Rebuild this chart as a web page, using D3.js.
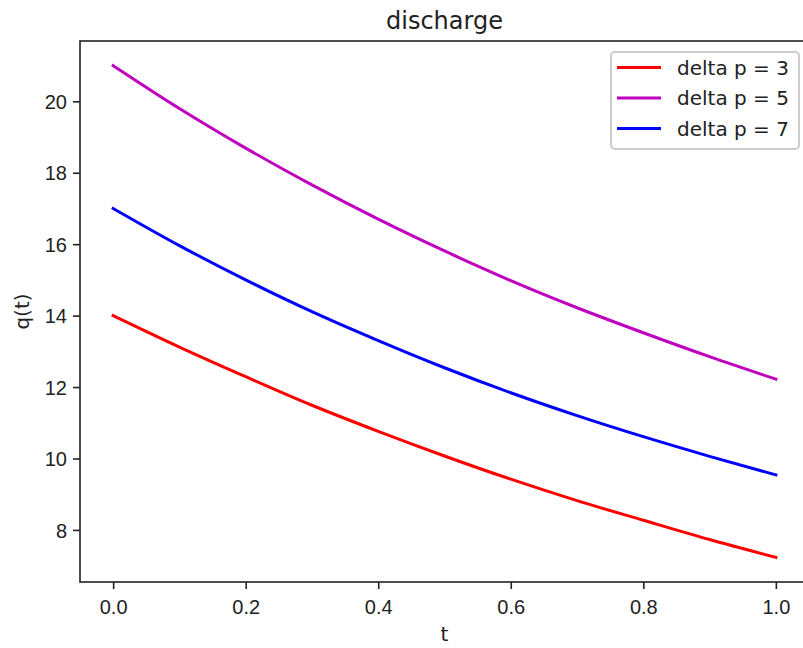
<!DOCTYPE html>
<html>
<head>
<meta charset="utf-8">
<script src="https://cdn.jsdelivr.net/npm/d3@7"></script>
<style>
  html, body { margin: 0; padding: 0; background: #fff; }
  svg { display: block; font-family: "DejaVu Sans", sans-serif; }
</style>
</head>
<body>
<svg id="chart" width="803" height="648"></svg>
<script>
const tValues = [0.0, 0.1, 0.2, 0.3, 0.4, 0.5, 0.6, 0.7, 0.8, 0.9, 1.0];
const seriesNames = ["delta p = 3", "delta p = 5", "delta p = 7"];
const seriesColors = ["#ff0000", "#bf00bf", "#0000ff"];
const qDeltaP3 = [14.0, 13.12, 12.29, 11.49, 10.76, 10.07, 9.42, 8.82, 8.27, 7.73, 7.23];
const qDeltaP5 = [21.0, 19.80, 18.69, 17.66, 16.70, 15.81, 14.98, 14.22, 13.52, 12.85, 12.22];
const qDeltaP7 = [17.0, 15.96, 15.00, 14.11, 13.30, 12.54, 11.84, 11.20, 10.61, 10.06, 9.54];
const xTicks = [0.0, 0.2, 0.4, 0.6, 0.8, 1.0];
const yTicks = [8, 10, 12, 14, 16, 18, 20];
const titleText = "discharge";
const xLabel = "t";
const yLabel = "q(t)";

const seriesValues = [qDeltaP3, qDeltaP5, qDeltaP7];

(function () {
const svg = d3.select("#chart");
const mLeft = 80, mRight = 809, mTop = 41, mBottom = 582;
const textColor = "#222";

const xExt = d3.extent(tValues);
const xPad = (xExt[1] - xExt[0]) * 0.05;
const x = d3.scaleLinear().domain([xExt[0] - xPad, xExt[1] + xPad]).range([mLeft, mRight]);

const allY = seriesValues.flat();
const yExt = d3.extent(allY);
const yPad = (yExt[1] - yExt[0]) * 0.05;
const y = d3.scaleLinear().domain([yExt[0] - yPad, yExt[1] + yPad]).range([mBottom, mTop]);

svg.append("defs").append("clipPath").attr("id", "clip")
  .append("rect").attr("x", mLeft).attr("y", mTop).attr("width", mRight - mLeft).attr("height", mBottom - mTop);

const line = d3.line()
  .x((d, i) => x(tValues[i]))
  .y(d => y(d))
  .curve(d3.curveMonotoneX);

const plot = svg.append("g").attr("clip-path", "url(#clip)");
seriesValues.forEach((vals, k) => {
  plot.append("path")
    .attr("d", line(vals))
    .attr("fill", "none")
    .attr("stroke", seriesColors[k])
    .attr("stroke-width", 3)
    .attr("stroke-linejoin", "round")
    .attr("stroke-linecap", "square");
});

const xAxis = d3.axisBottom(x).tickValues(xTicks).tickFormat(d3.format(".1f")).tickSize(7).tickPadding(6);
const gx = svg.append("g").attr("transform", `translate(0,${mBottom})`).call(xAxis);
gx.select(".domain").remove();
gx.selectAll(".tick line").attr("stroke", textColor).attr("stroke-width", 1.6);
gx.selectAll(".tick text").attr("fill", textColor).style("font-size", "20px").attr("dy", "0.95em");

const yAxis = d3.axisLeft(y).tickValues(yTicks).tickFormat(d3.format("d")).tickSize(7).tickPadding(6);
const gy = svg.append("g").attr("transform", `translate(${mLeft},0)`).call(yAxis);
gy.select(".domain").remove();
gy.selectAll(".tick line").attr("stroke", textColor).attr("stroke-width", 1.6);
gy.selectAll(".tick text").attr("fill", textColor).style("font-size", "20px").attr("dy", "0.36em");

svg.append("rect")
  .attr("x", mLeft).attr("y", mTop).attr("width", mRight - mLeft).attr("height", mBottom - mTop)
  .attr("fill", "none").attr("stroke", textColor).attr("stroke-width", 1.6);

svg.append("text").attr("x", (mLeft + mRight) / 2).attr("y", 29)
  .attr("text-anchor", "middle").attr("fill", textColor).style("font-size", "24px").text(titleText);

svg.append("text").attr("x", (mLeft + mRight) / 2).attr("y", 641)
  .attr("text-anchor", "middle").attr("fill", textColor).style("font-size", "20px").text(xLabel);

svg.append("text").attr("transform", `translate(29,${(mTop + mBottom) / 2}) rotate(-90)`)
  .attr("text-anchor", "middle").attr("fill", textColor).style("font-size", "20px").text(yLabel);

const lg = svg.append("g");
const lgX = 611, lgY = 52, lgW = 188, lgH = 97;
lg.append("rect").attr("x", lgX).attr("y", lgY).attr("width", lgW).attr("height", lgH)
  .attr("rx", 4).attr("ry", 4)
  .attr("fill", "rgba(255,255,255,0.8)").attr("stroke", "#cccccc").attr("stroke-width", 2);
seriesNames.forEach((name, k) => {
  const cy = lgY + 15.5 + k * 30.5;
  lg.append("line").attr("x1", lgX + 6).attr("x2", lgX + 50).attr("y1", cy).attr("y2", cy)
    .attr("stroke", seriesColors[k]).attr("stroke-width", 3);
  lg.append("text").attr("x", lgX + 66).attr("y", cy).attr("dy", "0.36em")
    .attr("fill", textColor).style("font-size", "20px").text(name);
});
})();
</script>
</body>
</html>
